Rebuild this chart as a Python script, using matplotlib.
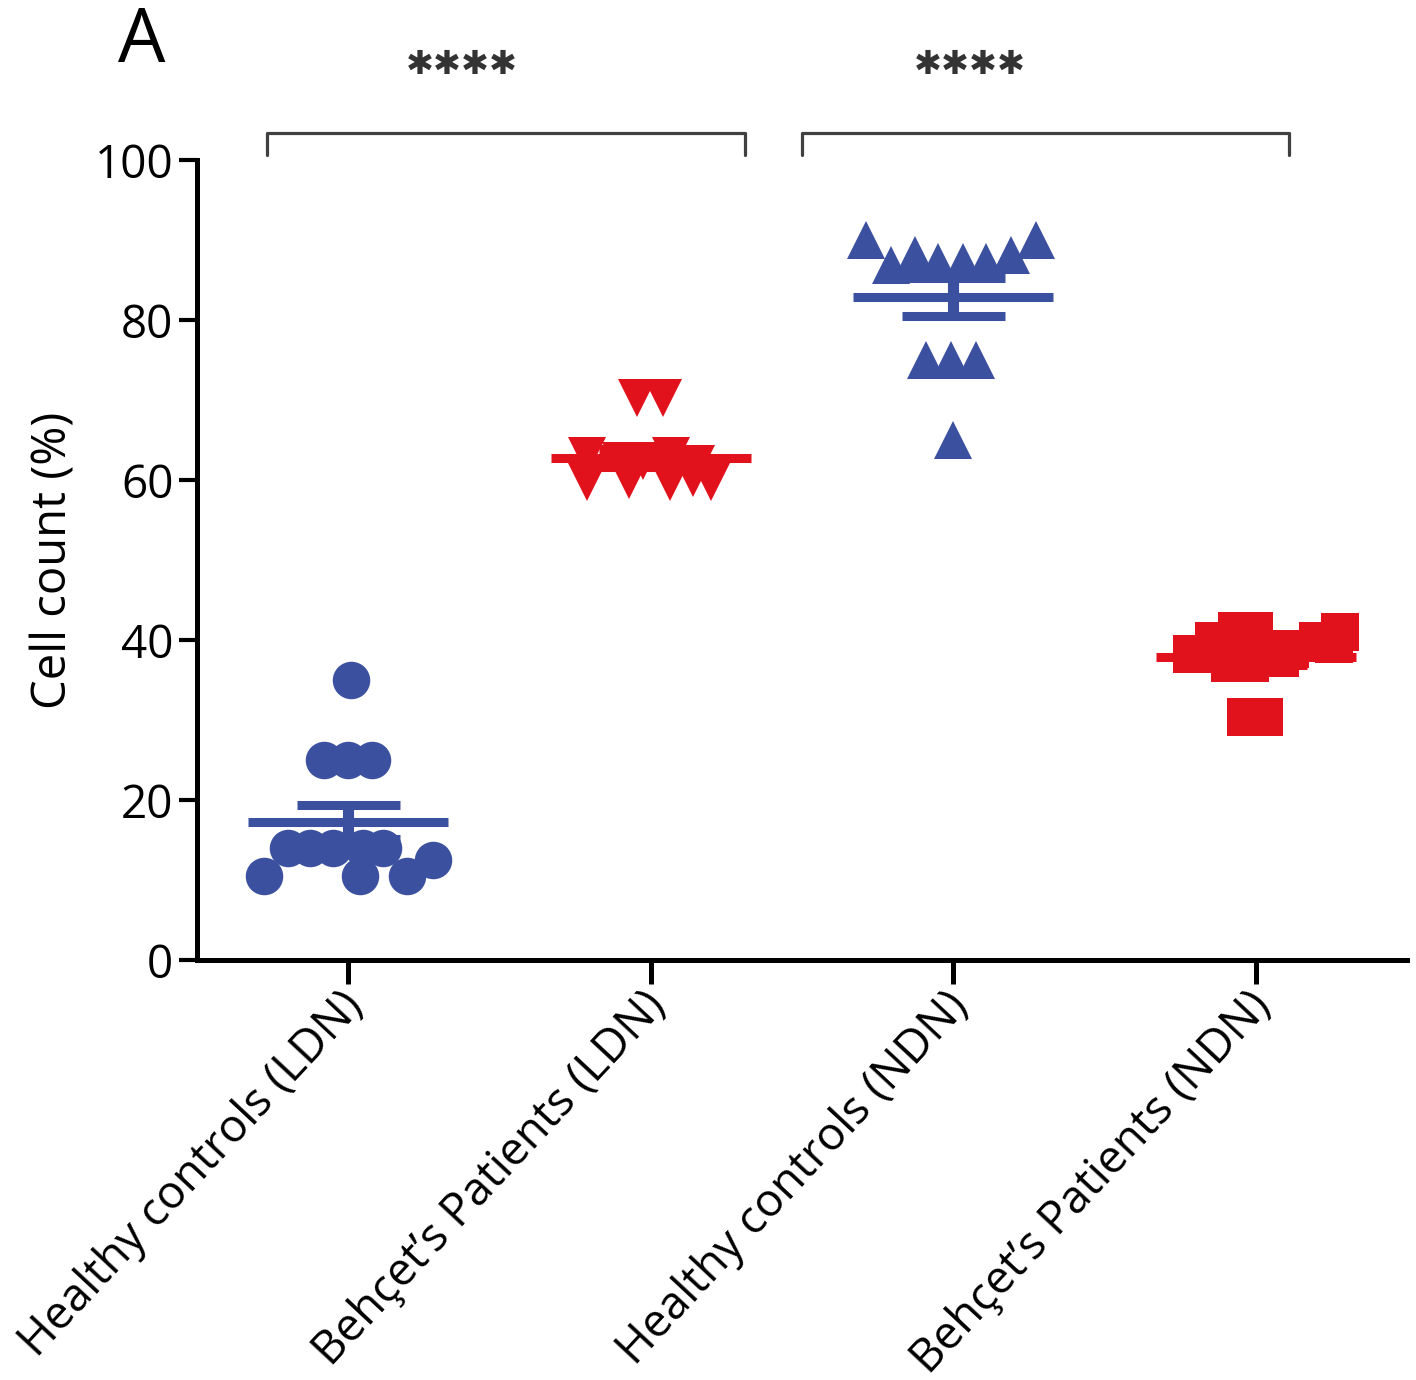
import numpy as np
import matplotlib
matplotlib.use("Agg")
import matplotlib.pyplot as plt
from matplotlib.transforms import ScaledTranslation

plt.rcParams['font.family'] = ['Open Sans', 'DejaVu Sans']

# ---- data ----
categories = ["Healthy controls (LDN)", "Behçet\u2019s Patients (LDN)",
              "Healthy controls (NDN)", "Behçet\u2019s Patients (NDN)"]

hc_ldn = [35, 25, 25, 25, 14, 14, 14, 14, 14, 12.5, 10.5, 10.5, 10.5]
hc_ldn_dx = [0.01, -0.08, 0.0, 0.08, -0.20, -0.125, -0.05, 0.05, 0.115, 0.28, -0.28, 0.04, 0.195]

bp_ldn = [70.3, 70.3, 63, 63, 62.4, 62.4, 62, 59.7, 60, 59.7, 60.3, 59.7]
bp_ldn_dx = [-0.046, 0.04, -0.21, 0.066, -0.10, -0.026, 0.15, -0.21, -0.073, 0.063, 0.14, 0.20]

hc_ndn = [90, 90, 86.9, 88.1, 87.2, 87.2, 87.2, 88.1, 75, 75, 75, 65]
hc_ndn_dx = [-0.287, 0.274, -0.205, -0.125, -0.05, 0.033, 0.109, 0.19, -0.089, -0.007, 0.076, 0.0]

bp_ndn = [38.2, 39.9, 41.1, 41.1, 37.1, 37.1, 37.7, 38.9, 39.9, 41, 39.5, 30.4, 30.4]
bp_ndn_dx = [-0.21, -0.139, -0.063, -0.007, -0.086, -0.02, 0.079, 0.112, 0.205, 0.277, 0.26, -0.033, 0.026]

groups = [hc_ldn, bp_ldn, hc_ndn, bp_ndn]
offsets = [hc_ldn_dx, bp_ldn_dx, hc_ndn_dx, bp_ndn_dx]
markers = ['o', 'v', '^', 's']
BLUE = '#3C50A0'
RED = '#E2121C'
colors = [BLUE, RED, BLUE, RED]

yticks = [0, 20, 40, 60, 80, 100]
sig_labels = ["\u2731\u2731\u2731\u2731", "\u2731\u2731\u2731\u2731"]

# ---- figure ----
fig = plt.figure(figsize=(14.16, 13.8), dpi=100)
ax = fig.add_axes([197/1416, 1 - 960/1380, (1407-197)/1416, (960-160)/1380])

for i, (vals, dx, m, c) in enumerate(zip(groups, offsets, markers, colors)):
    vals = np.asarray(vals, float)
    xs = i + np.asarray(dx, float)
    ax.plot(xs, vals, linestyle='none', marker=m, ms=27, color=c,
            markeredgewidth=0, zorder=3, clip_on=False)
    mean = vals.mean()
    sem = vals.std(ddof=1) / np.sqrt(len(vals))
    ax.hlines(mean, i - 0.33, i + 0.33, color=c, lw=6.5, zorder=4)
    ax.hlines([mean - sem, mean + sem], i - 0.17, i + 0.17, color=c, lw=6.5, zorder=4)
    ax.vlines(i, mean - sem, mean + sem, color=c, lw=8, zorder=4)

ax.set_xlim(-0.5, 3.5)
ax.set_ylim(0, 100)

for s in ['top', 'right']:
    ax.spines[s].set_visible(False)
for s in ['left', 'bottom']:
    ax.spines[s].set_linewidth(3.6)
ax.tick_params(axis='y', length=13, width=3, pad=4)
ax.tick_params(axis='x', length=17, width=3.6, pad=6)

ax.set_yticks(yticks)
ax.set_yticklabels([str(t) for t in yticks], fontsize=33)
ax.set_xticks(range(len(categories)))
ax.set_xticklabels(categories, fontsize=33, rotation=47, ha='right', va='top',
                   rotation_mode='anchor')
offset = ScaledTranslation(-9/100, 9/100, fig.dpi_scale_trans)
for lab in ax.get_xticklabels():
    lab.set_transform(lab.get_transform() + offset)

ax.set_ylabel("Cell count (%)", fontsize=34, labelpad=12)

# significance brackets
brackets = [(-0.27, 1.31), (1.50, 3.11)]
star_x = [0.376, 2.055]
for (x0, x1), sx, lab in zip(brackets, star_x, sig_labels):
    ax.plot([x0, x0, x1, x1], [100.6, 103.4, 103.4, 100.6], color='#404040',
            lw=2.3, clip_on=False, solid_joinstyle='round', solid_capstyle='round')
    ax.text(sx, 112, lab, ha='center', va='center', fontsize=24,
            color='#333333', clip_on=False, family='DejaVu Sans')

fig.text(118/1416, 1 - 62/1380, "A", fontsize=54, ha='left', va='baseline')

fig.savefig("out.png", dpi=100)
